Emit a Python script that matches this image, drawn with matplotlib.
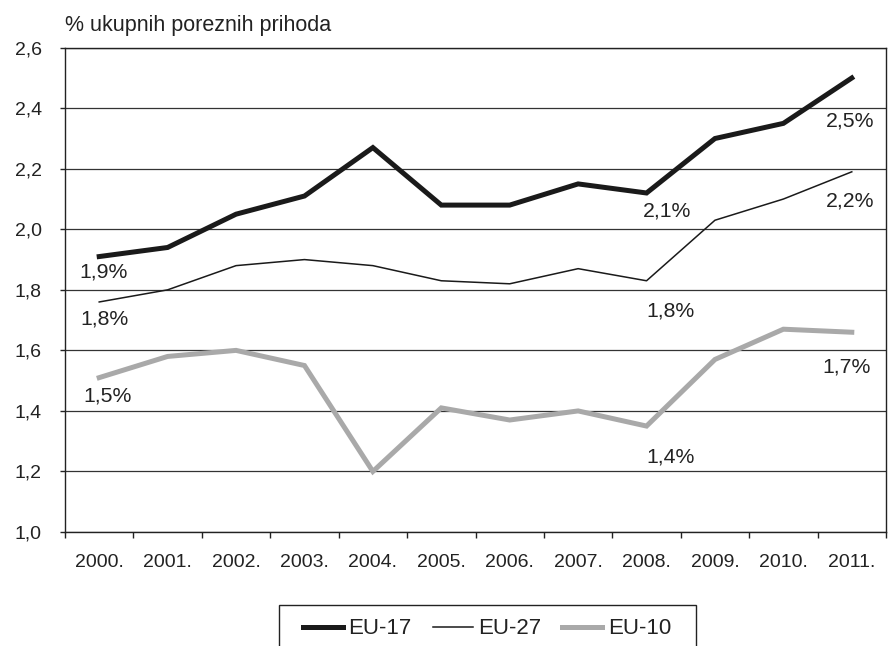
import matplotlib
matplotlib.use("Agg")
import matplotlib.pyplot as plt
from matplotlib.patches import Rectangle
import numpy as np

plt.rcParams['font.family'] = ['Liberation Sans', 'DejaVu Sans']

years = ['2000.', '2001.', '2002.', '2003.', '2004.', '2005.',
         '2006.', '2007.', '2008.', '2009.', '2010.', '2011.']
eu17 = [1.91, 1.94, 2.05, 2.11, 2.27, 2.08, 2.08, 2.15, 2.12, 2.30, 2.35, 2.50]
eu27 = [1.76, 1.80, 1.88, 1.90, 1.88, 1.83, 1.82, 1.87, 1.83, 2.03, 2.10, 2.19]
eu10 = [1.51, 1.58, 1.60, 1.55, 1.20, 1.41, 1.37, 1.40, 1.35, 1.57, 1.67, 1.66]
yticks = [1.0, 1.2, 1.4, 1.6, 1.8, 2.0, 2.2, 2.4, 2.6]

W, H = 888, 646
fig = plt.figure(figsize=(W / 100, H / 100), dpi=100)
ax = fig.add_axes([65 / W, 1 - 532 / H, 821 / W, (532 - 47.7) / H])

x = np.arange(len(years))
ax.plot(x, eu17, color='#1a1a1a', lw=3.6, solid_joinstyle='miter', label='EU-17', zorder=4)
ax.plot(x, eu27, color='#1a1a1a', lw=1.1, label='EU-27', zorder=4)
ax.plot(x, eu10, color='#a9a9a9', lw=3.6, solid_joinstyle='miter', label='EU-10', zorder=3)

ax.set_xlim(-0.5, len(years) - 0.5)
ax.set_ylim(1.0, 2.6)
ax.set_yticks(yticks)
ax.set_yticklabels([f"{v:.1f}".replace('.', ',') for v in yticks])
ax.set_xticks(x)
ax.set_xticklabels(years)
ax.set_xticks(np.arange(-0.5, len(years)), minor=True)
ax.tick_params(axis='x', which='major', length=0, pad=15.5, labelsize=14, colors='#222222')
ax.tick_params(axis='x', which='minor', length=4.5, width=1, direction='out', color='#222222')
ax.tick_params(axis='y', length=3.6, width=1, pad=13, labelsize=14, colors='#222222')
ax.yaxis.grid(True, color='#333333', lw=0.9)
ax.set_axisbelow(True)
for s in ax.spines.values():
    s.set_color('#222222')
    s.set_linewidth(1.0)

# value labels at 2000, 2008 and 2011 (offsets in points)
offsets = {
    0: [(3, -11), (4, -12), (6, -13)],
    8: [(15, -13), (17, -22), (17, -22)],
    11: [(-1, -31), (-1, -21), (-4, -25)],
}
for i, offs in offsets.items():
    for series, (dx, dy) in zip([eu17, eu27, eu10], offs):
        ax.annotate(f"{series[i]:.1f}".replace('.', ',') + '%', xy=(i, series[i]),
                    xytext=(dx, dy), textcoords='offset points',
                    ha='center', va='center', fontsize=15.3, color='#222222')

fig.text(65 / W, 1 - 31 / H, '% ukupnih poreznih prihoda', fontsize=15.5,
         color='#222222', ha='left', va='baseline')

leg = fig.legend(loc='center', bbox_to_anchor=(487 / W, 1 - 629 / H), ncol=3,
                 frameon=False, fontsize=16, handlelength=1.8, handletextpad=0.25,
                 columnspacing=0.95, borderaxespad=0)
for t in leg.get_texts():
    t.set_color('#222222')
fig.patches.append(Rectangle((279 / W, 1 - 660 / H), 417 / W, 55 / H,
                             transform=fig.transFigure, fill=False,
                             edgecolor='#222222', lw=1.0))

fig.savefig('out.png', dpi=100)
